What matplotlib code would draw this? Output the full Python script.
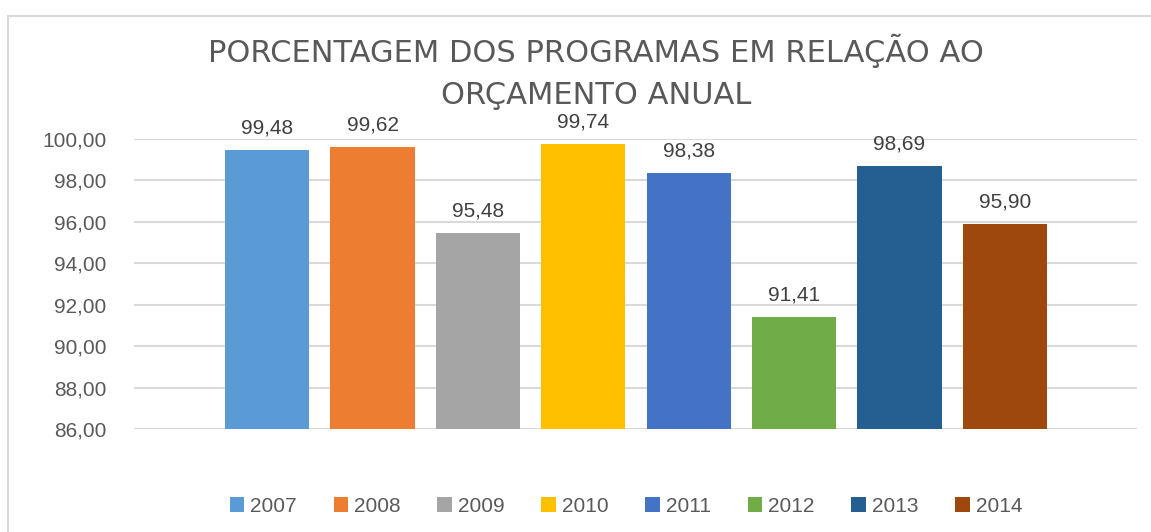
import matplotlib.pyplot as plt
import matplotlib.patches as mpatches

anos = ['2007', '2008', '2009', '2010', '2011', '2012', '2013', '2014']
valores = [99.48, 99.62, 95.48, 99.74, 98.38, 91.41, 98.69, 95.90]
cores = ['#5B9BD5', '#ED7D31', '#A5A5A5', '#FFC000',
         '#4472C4', '#70AD47', '#255E91', '#9E480E']
yticks = [86, 88, 90, 92, 94, 96, 98, 100]

W, H = 1151, 532
fig = plt.figure(figsize=(W / 100, H / 100), dpi=100)
fig.patch.set_facecolor('white')

# moldura do grafico (estilo Excel)
fig.patches.append(mpatches.Rectangle(
    (8 / W, -0.1), 1.2, 1.1 - 16 / H, transform=fig.transFigure,
    fill=False, edgecolor='#D9D9D9', linewidth=1.5))

ax = fig.add_axes([134 / W, 1 - 429 / H, (1137 - 134) / W, (429 - 139) / H])

font = 'Liberation Sans'
txt = '#595959'

xs = list(range(len(anos)))
bars = ax.bar(xs, [v - 86 for v in valores], bottom=86, width=0.8,
              color=cores, zorder=3)
for x, v in zip(xs, valores):
    ax.annotate(f'{v:.2f}'.replace('.', ','), (x, v), xytext=(0, 9),
                textcoords='offset points', ha='center', va='bottom',
                fontsize=15, color='#404040', family=font, annotation_clip=False)

ax.set_xlim(-1.263, 8.253)
ax.set_ylim(86, 100)
ax.set_yticks(yticks)
ax.set_yticklabels([f'{t:.2f}'.replace('.', ',') for t in yticks],
                   fontsize=15, color=txt, family=font)
ax.set_xticks([])
ax.tick_params(axis='y', length=0, pad=20)
ax.yaxis.grid(True, color='#D9D9D9', linewidth=1.5, zorder=0)
for s in ax.spines.values():
    s.set_visible(False)

fig.text(596 / W, 1 - 51 / H, 'PORCENTAGEM DOS PROGRAMAS EM RELAÇÃO AO',
         ha='center', va='center', fontsize=22, color=txt,
         family='Liberation Sans Narrow')
fig.text(596 / W, 1 - 95 / H, 'ORÇAMENTO ANUAL',
         ha='center', va='center', fontsize=22, color=txt,
         family='Liberation Sans Narrow')

leg = fig.legend(bars, anos, loc='center', bbox_to_anchor=(626 / W, 1 - 506 / H),
                 ncol=8, frameon=False, handlelength=0.7, handleheight=0.7,
                 handletextpad=0.3, columnspacing=1.75,
                 prop={'family': font, 'size': 15})
for t in leg.get_texts():
    t.set_color(txt)

fig.savefig('out.png', dpi=100)
